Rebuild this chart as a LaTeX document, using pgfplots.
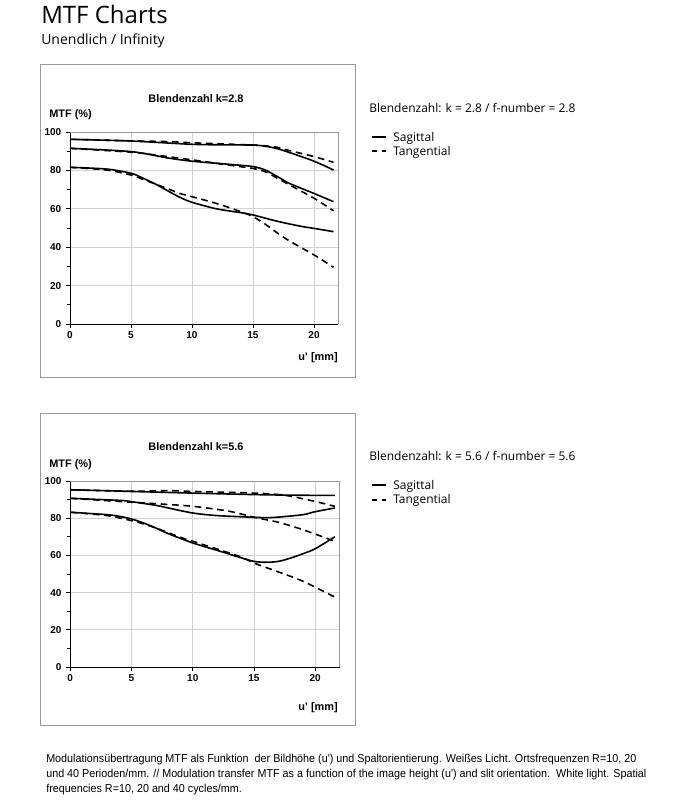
\documentclass[border=0pt]{standalone}
\usepackage{pgfplots}
\pgfplotsset{compat=1.18}
\usepackage{fontspec}
\setmainfont{Liberation Sans}
\newfontfamily\segoe{Open Sans}
\newfontfamily\capfont[FakeStretch=0.94]{Liberation Sans}

\pgfplotsset{
  mtf/.style={
    scale only axis,
    anchor=south west,
    xmin=0, xmax=22, ymin=0, ymax=100,
    axis x line*=bottom, axis y line*=left,
    axis line style={black, line width=0.6pt},
    xtick={0,5,10,15,20},
    ytick={0,20,...,100},
    minor y tick num=1,
    tick align=outside,
    major tick length=3pt,
    minor tick length=2.2pt,
    tick style={black, line width=0.5pt},
    grid=major,
    major grid style={gray!35, line width=0.5pt},
    ticklabel style={font=\fontsize{7.5pt}{8pt}\selectfont\bfseries},
    /pgf/number format/assume math mode=true,
    xticklabel style={yshift=1pt},
    clip=false,
  },
  sag/.style={black, line width=1.2pt, smooth, tension=0.5, no marks},
  tan/.style={black, line width=1.2pt, smooth, tension=0.5, no marks, dash pattern=on 5pt off 3.5pt},
}

\begin{document}
\begin{tikzpicture}
\useasboundingbox (0,0) rectangle (522.75pt,-603pt);
\fill[white] (0,0) rectangle (522.75pt,-603pt);

\begin{scope}[x=0.75pt, y=-0.75pt]
  % header
  \node[anchor=base west, inner sep=0pt, font=\segoe\fontsize{18pt}{20pt}\selectfont] at (41,23) {MTF Charts};
  \node[anchor=base west, inner sep=0pt, font=\segoe\fontsize{10.5pt}{12pt}\selectfont] at (41,44) {Unendlich / Infinity};

  % frames
  \draw[gray!80, line width=0.6pt] (40,64) rectangle (355,377);
  \draw[gray!80, line width=0.6pt] (40,413) rectangle (355,725);

  % chart texts top
  \node[anchor=base, inner sep=0pt, font=\fontsize{8.2pt}{9pt}\selectfont\bfseries] at (196,102) {Blendenzahl k=2.8};
  \node[anchor=base west, inner sep=0pt, font=\fontsize{8.2pt}{9pt}\selectfont\bfseries] at (49,117) {MTF (\%)};
  \node[anchor=base east, inner sep=0pt, font=\fontsize{8.2pt}{9pt}\selectfont\bfseries] at (338,360) {u' [mm]};
  % chart texts bottom
  \node[anchor=base, inner sep=0pt, font=\fontsize{8.2pt}{9pt}\selectfont\bfseries] at (196,450) {Blendenzahl k=5.6};
  \node[anchor=base west, inner sep=0pt, font=\fontsize{8.2pt}{9pt}\selectfont\bfseries] at (49,467) {MTF (\%)};
  \node[anchor=base east, inner sep=0pt, font=\fontsize{8.2pt}{9pt}\selectfont\bfseries] at (338,710) {u' [mm]};

  % right texts top
  \node[anchor=base west, inner sep=0pt, font=\segoe\fontsize{9pt}{11pt}\selectfont] at (369,112) {Blendenzahl: k = 2.8 / f-number = 2.8};
  \draw[black, line width=1.4pt] (372,137) -- (386,137);
  \draw[black, line width=0.9pt] (372,151) -- (376.5,151) (381.5,151) -- (386,151);
  \node[anchor=base west, inner sep=0pt, font=\segoe\fontsize{9pt}{11pt}\selectfont] at (393,141) {Sagittal};
  \node[anchor=base west, inner sep=0pt, font=\segoe\fontsize{9pt}{11pt}\selectfont] at (393,155) {Tangential};
  % right texts bottom
  \node[anchor=base west, inner sep=0pt, font=\segoe\fontsize{9pt}{11pt}\selectfont] at (369,460) {Blendenzahl: k = 5.6 / f-number = 5.6};
  \draw[black, line width=1.4pt] (372,485) -- (386,485);
  \draw[black, line width=0.9pt] (372,500) -- (376.5,500) (381.5,500) -- (386,500);
  \node[anchor=base west, inner sep=0pt, font=\segoe\fontsize{9pt}{11pt}\selectfont] at (393,489) {Sagittal};
  \node[anchor=base west, inner sep=0pt, font=\segoe\fontsize{9pt}{11pt}\selectfont] at (393,503.5) {Tangential};

  % caption
  \node[anchor=base west, inner sep=0pt, font=\capfont\fontsize{8.6pt}{10pt}\selectfont] at (46,762) {Modulationsübertragung MTF als Funktion\ \ der Bildhöhe (u') und Spaltorientierung. Weißes Licht. Ortsfrequenzen R=10, 20};
  \node[anchor=base west, inner sep=0pt, font=\capfont\fontsize{8.6pt}{10pt}\selectfont] at (46,777) {und 40 Perioden/mm. // Modulation transfer MTF as a function of the image height (u') and slit orientation.\ \ White light. Spatial};
  \node[anchor=base west, inner sep=0pt, font=\capfont\fontsize{8.6pt}{10pt}\selectfont] at (46,792) {frequencies R=10, 20 and 40 cycles/mm.};
\end{scope}

% ---------- top chart k=2.8
\begin{axis}[mtf, at={(52.5pt,-243pt)}, width=201.3pt, height=144pt]
\draw[gray!80, line width=0.5pt] (rel axis cs:0,1) -- (rel axis cs:1,1) -- (rel axis cs:1,0);
% R=10
\addplot[sag] coordinates {(0,96.2) (5,95.3) (10,93.6) (13,93.3) (15,93.2) (16,92.6) (17,91.3) (18,89.3) (20,84.8) (21.6,80.2)};
\addplot[tan] coordinates {(0,96.2) (5,95.4) (8,95.0) (10,94.4) (15,93.2) (16,92.8) (17,92.0) (18,90.3) (20,87.2) (21.6,84.2)};
% R=20
\addplot[sag] coordinates {(0,91.5) (5,89.8) (8,86.5) (10,84.8) (13,83.2) (15,82.0) (16,80.2) (17,76.8) (18,73.2) (20,68.0) (21.6,63.7)};
\addplot[tan] coordinates {(0,91.5) (5,89.5) (7,88.0) (10,85.5) (13,82.8) (15,81.0) (16,79.3) (17,75.9) (18,72.4) (20,65.5) (21.6,59.0)};
% R=40
\addplot[sag] coordinates {(0,81.6) (3,80.7) (5,78.5) (6,75.9) (7,72.9) (8,69.4) (9,66.0) (10,63.4) (12,60.0) (14,58.0) (15,56.8) (17,53.5) (19,50.8) (20,49.8) (21.6,48.1)};
\addplot[tan] coordinates {(0,81.6) (3,80.2) (5,77.6) (6,75.3) (7,72.9) (8,70.5) (9,68.0) (10,66.3) (12,62.8) (14,58.5) (15,55.9) (16,52.0) (17,47.4) (18,43.2) (20,36.0) (21.6,29.5)};
\end{axis}

% ---------- bottom chart k=5.6
\begin{axis}[mtf, at={(52.7pt,-500.25pt)}, width=202.1pt, height=139.5pt]
\draw[gray!80, line width=0.5pt] (rel axis cs:0,1) -- (rel axis cs:1,1) -- (rel axis cs:1,0);
% R=10
\addplot[sag] coordinates {(0,95.3) (5,94.4) (10,93.5) (15,92.7) (18,92.4) (20,92.3) (21.6,92.3)};
\addplot[tan] coordinates {(0,95.3) (5,94.5) (8,94.8) (10,94.4) (15,93.5) (17,92.7) (18,91.8) (20,89.0) (21.6,86.4)};
% R=20
\addplot[sag] coordinates {(0,90.7) (4,89.6) (5,88.9) (7,86.9) (8,85.5) (10,82.8) (12,81.4) (15,80.5) (16,80.3) (17,80.6) (19,81.9) (20,83.5) (21.6,85.5)};
\addplot[tan] coordinates {(0,90.7) (5,88.6) (7,87.8) (10,86.4) (13,83.7) (15,80.5) (17,77.8) (19,73.8) (21.6,67.6)};
% R=40
\addplot[sag] coordinates {(0,83.2) (3,81.9) (4,81.0) (5,79.6) (6,77.4) (7,74.7) (8,71.7) (10,66.7) (12,62.7) (14,58.6) (15,56.8) (16,56.3) (17,56.8) (18,58.6) (19,60.9) (20,63.6) (21.6,70.0)};
\addplot[tan] coordinates {(0,83.2) (3,81.4) (5,78.7) (6,76.9) (7,74.7) (9,69.7) (10,67.6) (12,63.4) (14,59.0) (15,55.9) (17,51.1) (19,46.1) (21.6,37.6)};
\end{axis}
\end{tikzpicture}
\end{document}
